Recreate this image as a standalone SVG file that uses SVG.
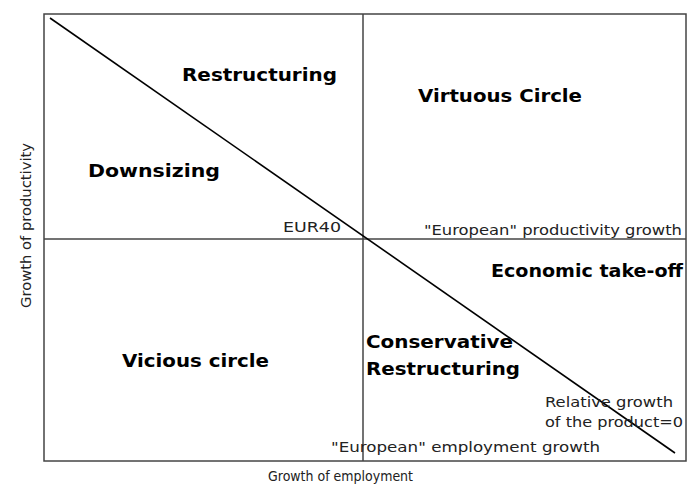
<svg xmlns="http://www.w3.org/2000/svg" width="694" height="486" viewBox="0 0 694 486">
<style>
.b{font-family:"DejaVu Sans","Liberation Sans",Arial,sans-serif;font-weight:bold;font-size:18px;fill:#000}
.r{font-family:"DejaVu Sans","Liberation Sans",Arial,sans-serif;font-size:14px;fill:#222}
.ax{stroke:#444;stroke-width:1.5;fill:none}
</style>
<rect width="694" height="486" fill="#fff"/>
<g id="connectors">
<rect class="ax" x="44" y="14" width="642" height="447"/>
<line class="ax" x1="363" y1="14" x2="363" y2="461"/>
<line class="ax" x1="44" y1="239" x2="686" y2="239"/>
<line x1="50" y1="18" x2="675" y2="453" stroke="#000" stroke-width="1.6"/>
</g>
<g id="restructuring"><text class="b" x="182" y="81" textLength="155" lengthAdjust="spacingAndGlyphs">Restructuring</text></g>
<g id="virtuous"><text class="b" x="418" y="102" textLength="164" lengthAdjust="spacingAndGlyphs">Virtuous Circle</text></g>
<g id="downsizing"><text class="b" x="88" y="177" textLength="132" lengthAdjust="spacingAndGlyphs">Downsizing</text></g>
<g id="eur40"><text class="r" x="283" y="232" textLength="58" lengthAdjust="spacingAndGlyphs">EUR40</text></g>
<g id="prodgrowth"><text class="r" x="424" y="235" textLength="258" lengthAdjust="spacingAndGlyphs">"European" productivity growth</text></g>
<g id="takeoff"><text class="b" x="491" y="277" textLength="192" lengthAdjust="spacingAndGlyphs">Economic take-off</text></g>
<g id="vicious"><text class="b" x="122" y="367" textLength="147" lengthAdjust="spacingAndGlyphs">Vicious circle</text></g>
<g id="conservative">
<text class="b" x="366" y="348" textLength="147" lengthAdjust="spacingAndGlyphs">Conservative</text>
<text class="b" x="366" y="375" textLength="154" lengthAdjust="spacingAndGlyphs">Restructuring</text>
</g>
<g id="relative">
<text class="r" x="545" y="407" textLength="128" lengthAdjust="spacingAndGlyphs">Relative growth</text>
<text class="r" x="545" y="427" textLength="138" lengthAdjust="spacingAndGlyphs">of the product=0</text>
</g>
<g id="empgrowth"><text class="r" x="331" y="452" textLength="269" lengthAdjust="spacingAndGlyphs">"European" employment growth</text></g>
<g id="xlabel"><text class="r" x="268" y="481" textLength="145" lengthAdjust="spacingAndGlyphs">Growth of employment</text></g>
<g id="ylabel"><text class="r" transform="translate(31,308) rotate(-90)" x="0" y="0" textLength="165" lengthAdjust="spacingAndGlyphs">Growth of productivity</text></g>
</svg>
